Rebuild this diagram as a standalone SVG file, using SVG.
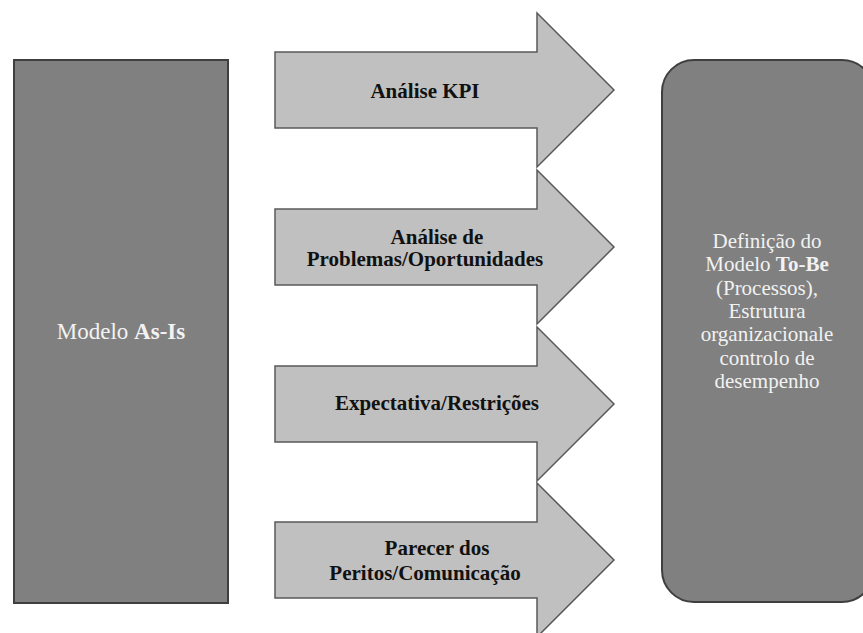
<svg xmlns="http://www.w3.org/2000/svg" width="863" height="633" viewBox="0 0 863 633">
  <style>
    .box { fill: #808080; stroke: #3f3f3f; stroke-width: 2; }
    .arrow { fill: #c0c0c0; stroke: #595959; stroke-width: 1.5; stroke-linejoin: miter; }
    .light { font-family: "Liberation Serif", "Times New Roman", serif; fill: #f2f2f2; text-anchor: middle; }
    .dark { font-family: "Liberation Serif", "Times New Roman", serif; fill: #111111; font-weight: bold; font-size: 21px; text-anchor: middle; }
    .b { font-weight: bold; }
  </style>
  <defs>
    <!-- block arrow: shaft from x=275 to 537, head to x=614, centred on y=0 -->
    <path id="blockArrow" d="M275,-38 H537 V-77 L614,0 L537,77 V38 H275 Z"/>
  </defs>

  <g id="as-is">
    <rect class="box" x="14" y="60" width="214" height="543"/>
    <text class="light" x="121" y="339" font-size="23">Modelo <tspan class="b">As-Is</tspan></text>
  </g>

  <g id="connectors">
    <g id="kpi">
      <use href="#blockArrow" class="arrow" transform="translate(0,90)"/>
      <text class="dark" x="425" y="98">Análise KPI</text>
    </g>
    <g id="problemas">
      <use href="#blockArrow" class="arrow" transform="translate(0,247)"/>
      <text class="dark" x="437" y="244">Análise de</text>
      <text class="dark" x="425" y="266">Problemas/Oportunidades</text>
    </g>
    <g id="expectativa">
      <use href="#blockArrow" class="arrow" transform="translate(0,404)"/>
      <text class="dark" x="437" y="410">Expectativa/Restrições</text>
    </g>
    <g id="parecer">
      <use href="#blockArrow" class="arrow" transform="translate(0,560)"/>
      <text class="dark" x="437" y="555">Parecer dos</text>
      <text class="dark" x="425" y="580">Peritos/Comunicação</text>
    </g>
  </g>

  <g id="to-be">
    <rect class="box" x="662" y="60" width="212" height="542" rx="32" ry="32"/>
    <g class="light" font-size="21">
      <text x="767" y="248">Definição do</text>
      <text x="767" y="271.3">Modelo <tspan class="b">To-Be</tspan></text>
      <text x="767" y="294.7">(Processos),</text>
      <text x="767" y="318">Estrutura</text>
      <text x="767" y="341.3">organizacionale</text>
      <text x="767" y="364.7">controlo de</text>
      <text x="767" y="388">desempenho</text>
    </g>
  </g>
</svg>
